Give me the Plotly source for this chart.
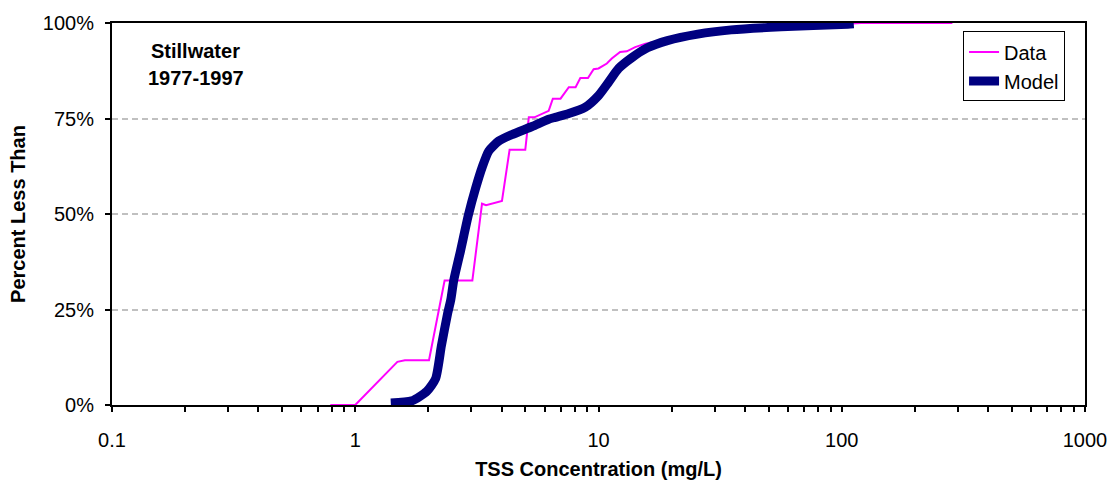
import plotly.graph_objects as go

# Observed data (TSS concentration mg/L vs percent less than)
data_x = [0.79, 1.0, 1.49, 1.6, 2.01, 2.33, 3.03, 3.32, 3.45, 4.01, 4.31, 5.0, 5.17, 5.45,
          6.24, 6.49, 6.98, 7.55, 8.05, 8.42, 9.05, 9.55, 10.0, 10.82, 11.34, 12.27, 13.07,
          14.15, 15.6, 19.0, 25.0, 35.0, 56.0, 106.0, 120.0, 285.0]
data_y = [0.0, 0.0, 11.3, 11.7, 11.7, 32.6, 32.6, 52.7, 52.3, 53.4, 66.8, 66.8, 75.3, 75.3,
          77.0, 80.2, 80.2, 83.2, 83.2, 85.6, 85.6, 87.9, 88.1, 89.4, 90.7, 92.4, 92.6,
          93.7, 94.6, 95.8, 97.3, 98.4, 99.2, 99.8, 100.0, 100.0]

# Model curve
model_x = [1.40, 1.71, 1.97, 2.14, 2.26, 2.40, 2.47, 2.54, 2.71, 2.92, 3.12, 3.34, 3.54,
           3.89, 4.41, 5.33, 6.24, 6.64, 7.55, 8.8, 10.0, 11.0, 12.1, 13.7, 15.9, 19.2,
           25.6, 35.1, 56.3, 106.0, 112.0]
model_y = [0.5, 1.1, 3.6, 6.9, 15.5, 24.1, 27.5, 32.6, 40.4, 49.8, 56.6, 62.6, 66.5,
           69.1, 70.8, 72.9, 74.8, 75.3, 76.3, 77.9, 81.0, 84.5, 88.1, 90.9, 93.5, 95.4,
           97.1, 98.2, 99.0, 99.7, 99.8]

x_tickvals = [0.1, 1, 10, 100, 1000]
x_ticktext = ["0.1", "1", "10", "100", "1000"]
y_tickvals = [0, 25, 50, 75, 100]
y_ticktext = ["0%", "25%", "50%", "75%", "100%"]

minor_vals = [m * d for d in [0.1, 1, 10, 100] for m in range(2, 10)]

FONT = "Arial, Liberation Sans, sans-serif"
FS = 20

fig = go.Figure()
fig.add_trace(go.Scatter(x=data_x, y=data_y, mode="lines", name="Data",
                         line=dict(color="#FF00FF", width=2)))
fig.add_trace(go.Scatter(x=model_x, y=model_y, mode="lines", name="Model",
                         line=dict(color="#000080", width=9, shape="spline", smoothing=0.6)))

fig.update_layout(
    width=1119, height=489,
    margin=dict(l=112, r=31, t=19, b=82),
    paper_bgcolor="white", plot_bgcolor="white",
    font=dict(family=FONT, size=FS, color="black"),
    showlegend=True,
    legend=dict(x=0.9795, xanchor="right", y=0.978, yanchor="top",
                bordercolor="black", borderwidth=1, bgcolor="white",
                font=dict(family=FONT, size=FS), tracegroupgap=0),
    annotations=[
        dict(text="<b>Stillwater</b>", x=0.086, y=0.927, xref="paper", yref="paper",
             xanchor="center", yanchor="middle",
             showarrow=False, font=dict(family=FONT, size=FS)),
        dict(text="<b>1977-1997</b>", x=0.086, y=0.857, xref="paper", yref="paper",
             xanchor="center", yanchor="middle",
             showarrow=False, font=dict(family=FONT, size=FS)),
    ],
)

fig.update_xaxes(
    type="log", range=[-1, 3],
    tickvals=x_tickvals, ticktext=x_ticktext,
    ticks="outside", ticklen=5, tickwidth=1.5, tickcolor="black",
    minor=dict(tickvals=minor_vals, ticks="outside", ticklen=5, tickwidth=1.5,
               tickcolor="black", showgrid=False),
    showline=True, linecolor="black", linewidth=2, mirror=True,
    showgrid=False, zeroline=False,
    ticklabelstandoff=11,
    title=dict(text="<b>TSS Concentration (mg/L)</b>", standoff=12,
               font=dict(family=FONT, size=FS)),
)
fig.update_yaxes(
    range=[0, 100],
    tickvals=y_tickvals, ticktext=y_ticktext,
    ticks="outside", ticklen=5, tickwidth=1.5, tickcolor="black",
    showline=True, linecolor="black", linewidth=2, mirror=True,
    showgrid=True, gridcolor="#C0C0C0", gridwidth=2, griddash="6px,4px",
    zeroline=False,
    ticklabelstandoff=7,
    title=dict(text="<b>Percent Less Than</b>", standoff=12,
               font=dict(family=FONT, size=FS)),
)

fig.write_html("out.html")
